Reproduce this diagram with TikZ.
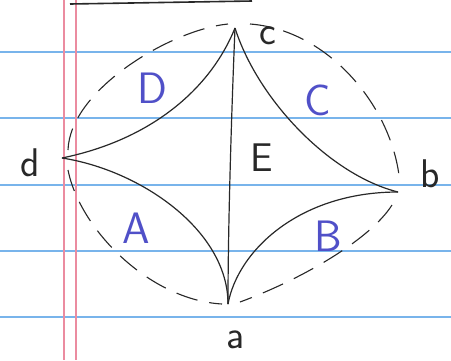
\documentclass[tikz,border=0pt]{standalone}
\usepackage{fontspec}
\setmainfont{DejaVu Sans}
\begin{document}
\begin{tikzpicture}[x=1pt,y=-1pt,
  ruled/.style={draw=rulecol, line width=1.6pt},
  margin/.style={draw=margincol, line width=1.2pt},
  edge/.style={draw=inkcol, line width=1.2pt},
  outer/.style={draw=inkcol, line width=1.1pt, dash pattern=on 22pt off 12pt},
  vlabel/.style={text=inkcol, font=\fontsize{40}{40}\selectfont\sffamily, inner sep=0pt},
  rlabel/.style={text=bluecol, font=\fontsize{44}{44}\selectfont\sffamily, inner sep=0pt},
]
\definecolor{rulecol}{RGB}{120,180,235}
\definecolor{margincol}{RGB}{235,140,160}
\definecolor{inkcol}{RGB}{40,40,40}
\definecolor{bluecol}{RGB}{80,80,200}
\useasboundingbox (0,0) rectangle (451,360);
\fill[white] (0,0) rectangle (451,360);
% ruled paper
\foreach \yy in {52,118,185,251,317} {\draw[ruled] (0,\yy) -- (451,\yy);}
\draw[margin] (64,0) -- (64,360);
\draw[margin] (76,0) -- (76,360);
\draw[inkcol, line width=1.6pt] (70,4) -- (252,1);
% vertices
\coordinate (c) at (235,28);
\coordinate (d) at (62,158);
\coordinate (b) at (398,192);
\coordinate (a) at (228,304);
% inner edges
\draw[edge] (d) .. controls (150,140) and (210,90) .. (c);
\draw[edge] (c) .. controls (258,100) and (330,175) .. (b);
\draw[edge] (b) .. controls (300,192) and (238,250) .. (a);
\draw[edge] (d) .. controls (140,170) and (228,230) .. (a);
\draw[edge] (c) .. controls (232,100) and (228,220) .. (a);
% outer dashed arcs
\draw[outer] (68,150) .. controls (70,90) and (170,30) .. (228,24);
\draw[outer] (250,24) .. controls (330,30) and (395,110) .. (400,185);
\draw[outer] (392,205) .. controls (370,240) and (300,280) .. (240,302);
\draw[outer] (68,170) .. controls (80,230) and (150,300) .. (222,304);
% vertex labels
\node[vlabel] (lc) at (268,36) {c};
\node[vlabel] (ld) at (30,163) {d};
\node[vlabel] (lb) at (430,174) {b};
\node[vlabel] (la) at (236,340) {a};
% region labels
\node[rlabel] (rD) at (152,88) {D};
\node[rlabel] (rC) at (318,100) {C};
\node[rlabel] (rA) at (136,228) {A};
\node[rlabel] (rB) at (328,236) {B};
\node[vlabel] (rE) at (262,158) {E};
\end{tikzpicture}
\end{document}
